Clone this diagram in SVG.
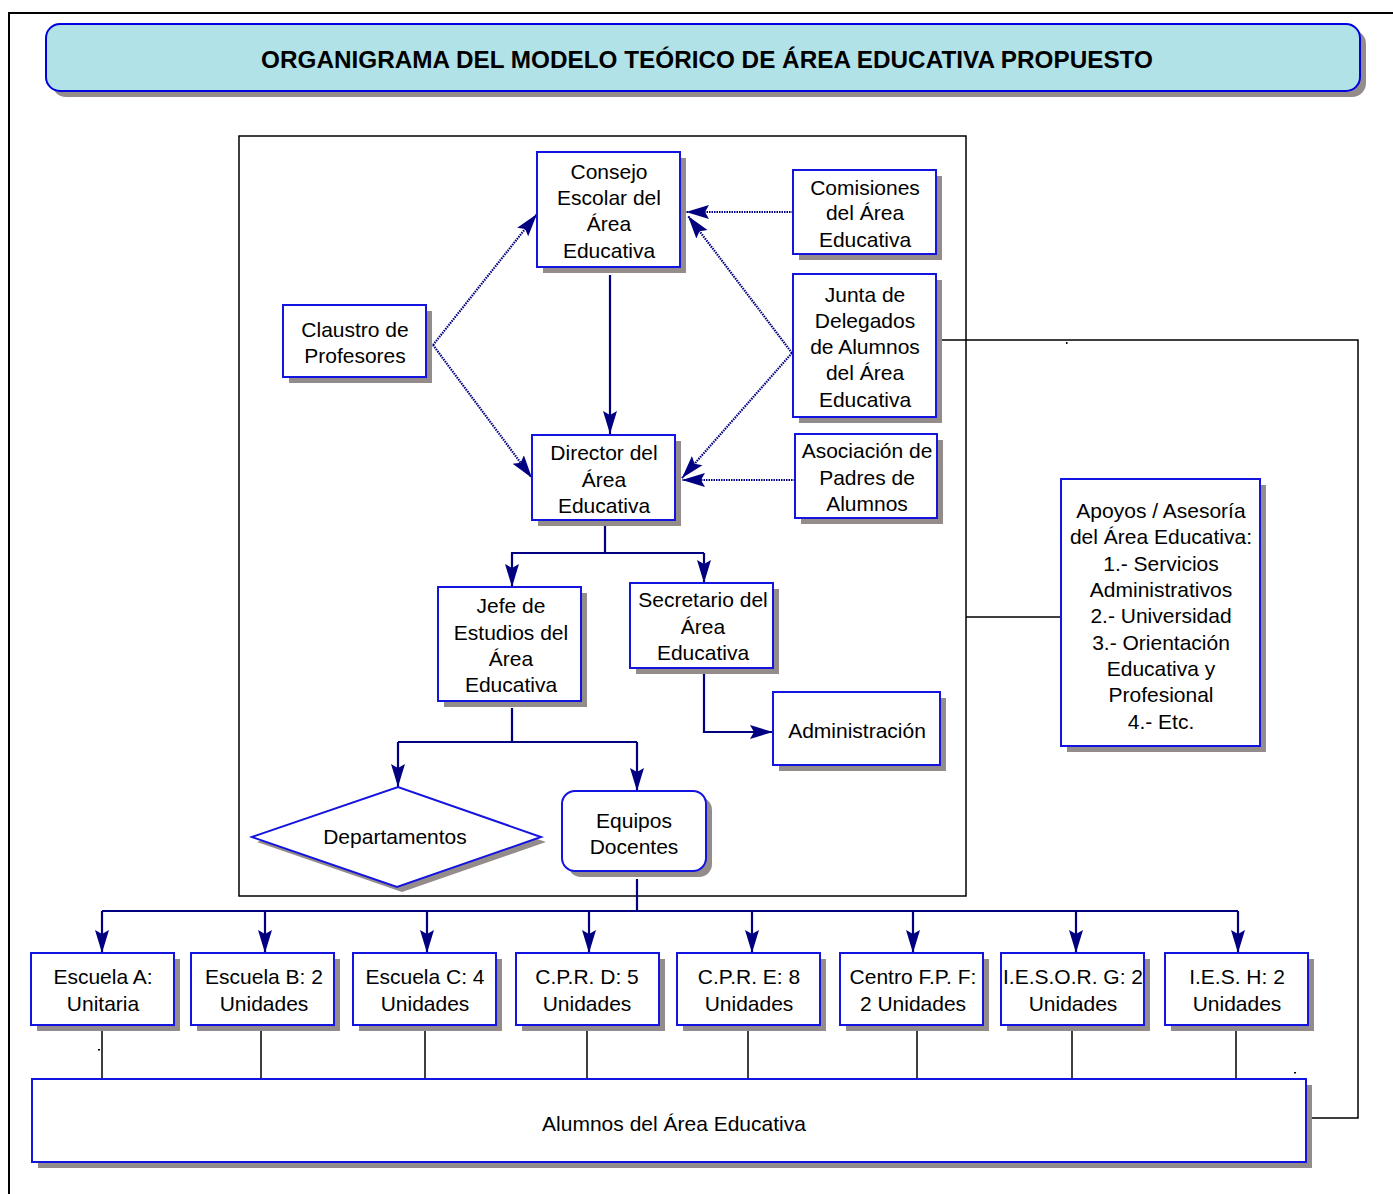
<svg xmlns="http://www.w3.org/2000/svg" width="1393" height="1194" viewBox="0 0 1393 1194">
<style>
.box{fill:#fff;stroke:#1414E0;stroke-width:2}
.sh{fill:#948B8B}
.t{font-family:"Liberation Sans",Arial,sans-serif;font-size:21px;fill:#000;text-anchor:middle}
.ln{fill:none;stroke:#000080;stroke-width:2.2}
.dot{fill:none;stroke:#000080;stroke-width:2.2;stroke-dasharray:1.5 1}
.bk{fill:none;stroke:#000;stroke-width:1.5}
</style>
<defs>
<marker id="ah" markerWidth="26" markerHeight="16" refX="23" refY="8" orient="auto" markerUnits="userSpaceOnUse">
<path d="M0,1 L23,8 L0,15 L4,8 Z" fill="#000080"/>
</marker>
</defs>
<rect width="1393" height="1194" fill="#fff"/>
<g id="frame">
<path d="M9,1194 V13 H1393" fill="none" stroke="#000" stroke-width="2"/>
<rect x="239" y="136" width="727" height="760" fill="none" stroke="#000" stroke-width="1.5"/>
</g>
<g id="title">
<rect x="52" y="30" width="1314" height="67" rx="14" fill="#948B8B"/>
<rect x="46" y="24" width="1314" height="67" rx="14" fill="#B0E2E8" stroke="#0000E0" stroke-width="2"/>
<text x="707" y="68" style="font-family:'Liberation Sans',Arial,sans-serif;font-size:24.3px;font-weight:bold;text-anchor:middle">ORGANIGRAMA DEL MODELO TEÓRICO DE ÁREA EDUCATIVA PROPUESTO</text>
</g>
<g id="connectors">
<path class="ln" d="M610,275 V434" marker-end="url(#ah)"/>
<path class="dot" d="M433,345 L537,214" marker-end="url(#ah)"/>
<path class="dot" d="M433,345 L532,478" marker-end="url(#ah)"/>
<path class="dot" d="M793,212 L686,212" marker-end="url(#ah)"/>
<path class="dot" d="M792,353 L688,216" marker-end="url(#ah)"/>
<path class="dot" d="M792,353 L682,478" marker-end="url(#ah)"/>
<path class="dot" d="M795,480 L682,480" marker-end="url(#ah)"/>
<path class="ln" d="M605,526 V553 M511,553 H704"/>
<path class="ln" d="M512,553 V587" marker-end="url(#ah)"/>
<path class="ln" d="M704,553 V583" marker-end="url(#ah)"/>
<path class="ln" d="M512,708 V742 M398,742 H637"/>
<path class="ln" d="M398,742 V787" marker-end="url(#ah)"/>
<path class="ln" d="M637,742 V791" marker-end="url(#ah)"/>
<path class="ln" d="M704,674 V732 H773" marker-end="url(#ah)"/>
<path class="ln" d="M637,879 V911 M102,911 H1238"/>
<path class="ln" d="M102,911 V953" marker-end="url(#ah)"/>
<path class="ln" d="M265,911 V953" marker-end="url(#ah)"/>
<path class="ln" d="M427,911 V953" marker-end="url(#ah)"/>
<path class="ln" d="M589,911 V953" marker-end="url(#ah)"/>
<path class="ln" d="M752,911 V953" marker-end="url(#ah)"/>
<path class="ln" d="M913,911 V953" marker-end="url(#ah)"/>
<path class="ln" d="M1076,911 V953" marker-end="url(#ah)"/>
<path class="ln" d="M1238,911 V953" marker-end="url(#ah)"/>
<path class="bk" d="M102,1025 V1080 M261,1025 V1080 M425,1025 V1080 M587,1025 V1080 M748,1025 V1080 M917,1025 V1080 M1072,1025 V1080 M1236,1025 V1080"/>
<path class="bk" d="M936,340 H1358 V1118 H1306"/>
<path class="bk" d="M966,617 H1061"/>
<rect x="1066" y="342" width="1.5" height="2" fill="#000"/>
<rect x="98" y="1049" width="2" height="1.5" fill="#000"/>
<rect x="1294" y="1072" width="2" height="1.5" fill="#000"/>
</g>
<g id="consejo">
<rect class="sh" x="543" y="158" width="143" height="115"/>
<rect class="box" x="537" y="152" width="143" height="115"/>
<text class="t" x="609" y="179">Consejo</text>
<text class="t" x="609" y="205">Escolar del</text>
<text class="t" x="609" y="231">Área</text>
<text class="t" x="609" y="258">Educativa</text>
</g>
<g id="comisiones">
<rect class="sh" x="799" y="176" width="143" height="84"/>
<rect class="box" x="793" y="170" width="143" height="84"/>
<text class="t" x="865" y="195">Comisiones</text>
<text class="t" x="865" y="220">del Área</text>
<text class="t" x="865" y="247">Educativa</text>
</g>
<g id="claustro">
<rect class="sh" x="289" y="311" width="143" height="72"/>
<rect class="box" x="283" y="305" width="143" height="72"/>
<text class="t" x="355" y="337">Claustro de</text>
<text class="t" x="355" y="363">Profesores</text>
</g>
<g id="junta">
<rect class="sh" x="799" y="280" width="143" height="143"/>
<rect class="box" x="793" y="274" width="143" height="143"/>
<text class="t" x="865" y="302">Junta de</text>
<text class="t" x="865" y="328">Delegados</text>
<text class="t" x="865" y="354">de Alumnos</text>
<text class="t" x="865" y="380">del Área</text>
<text class="t" x="865" y="407">Educativa</text>
</g>
<g id="director">
<rect class="sh" x="538" y="441" width="143" height="85"/>
<rect class="box" x="532" y="435" width="143" height="85"/>
<text class="t" x="604" y="460">Director del</text>
<text class="t" x="604" y="487">Área</text>
<text class="t" x="604" y="513">Educativa</text>
</g>
<g id="asociacion">
<rect class="sh" x="801" y="440" width="142" height="84"/>
<rect class="box" x="795" y="434" width="142" height="84"/>
<text class="t" x="867" y="458">Asociación de</text>
<text class="t" x="867" y="485">Padres de</text>
<text class="t" x="867" y="511">Alumnos</text>
</g>
<g id="jefe">
<rect class="sh" x="444" y="593" width="143" height="114"/>
<rect class="box" x="438" y="587" width="143" height="114"/>
<text class="t" x="511" y="613">Jefe de</text>
<text class="t" x="511" y="640">Estudios del</text>
<text class="t" x="511" y="666">Área</text>
<text class="t" x="511" y="692">Educativa</text>
</g>
<g id="secretario">
<rect class="sh" x="636" y="589" width="143" height="85"/>
<rect class="box" x="630" y="583" width="143" height="85"/>
<text class="t" x="703" y="607">Secretario del</text>
<text class="t" x="703" y="634">Área</text>
<text class="t" x="703" y="660">Educativa</text>
</g>
<g id="administracion">
<rect class="sh" x="779" y="698" width="167" height="73"/>
<rect class="box" x="773" y="692" width="167" height="73"/>
<text class="t" x="857" y="738">Administración</text>
</g>
<g id="departamentos">
<polygon class="sh" points="257,842 403,792 546,842 402,892"/>
<polygon class="box" points="252,837 398,787 541,837 397,887"/>
<text class="t" x="395" y="844">Departamentos</text>
</g>
<g id="equipos">
<rect class="sh" x="568" y="797" width="144" height="80" rx="13"/>
<rect class="box" x="562" y="791" width="144" height="80" rx="13"/>
<text class="t" x="634" y="828">Equipos</text>
<text class="t" x="634" y="854">Docentes</text>
</g>
<g id="apoyos">
<rect class="sh" x="1067" y="485" width="199" height="267"/>
<rect class="box" x="1061" y="479" width="199" height="267"/>
<text class="t" x="1161" y="518">Apoyos / Asesoría</text>
<text class="t" x="1161" y="544">del Área Educativa:</text>
<text class="t" x="1161" y="571">1.- Servicios</text>
<text class="t" x="1161" y="597">Administrativos</text>
<text class="t" x="1161" y="623">2.- Universidad</text>
<text class="t" x="1161" y="650">3.- Orientación</text>
<text class="t" x="1161" y="676">Educativa y</text>
<text class="t" x="1161" y="702">Profesional</text>
<text class="t" x="1161" y="729">4.- Etc.</text>
</g>
<g id="escuelaA">
<rect class="sh" x="37" y="959" width="143" height="72"/>
<rect class="box" x="31" y="953" width="143" height="72"/>
<text class="t" x="103" y="984">Escuela A:</text>
<text class="t" x="103" y="1011">Unitaria</text>
</g>
<g id="escuelaB">
<rect class="sh" x="197" y="959" width="143" height="72"/>
<rect class="box" x="191" y="953" width="143" height="72"/>
<text class="t" x="264" y="984">Escuela B: 2</text>
<text class="t" x="264" y="1011">Unidades</text>
</g>
<g id="escuelaC">
<rect class="sh" x="359" y="959" width="143" height="72"/>
<rect class="box" x="353" y="953" width="143" height="72"/>
<text class="t" x="425" y="984">Escuela C: 4</text>
<text class="t" x="425" y="1011">Unidades</text>
</g>
<g id="cprD">
<rect class="sh" x="522" y="959" width="143" height="72"/>
<rect class="box" x="516" y="953" width="143" height="72"/>
<text class="t" x="587" y="984">C.P.R. D: 5</text>
<text class="t" x="587" y="1011">Unidades</text>
</g>
<g id="cprE">
<rect class="sh" x="683" y="959" width="143" height="72"/>
<rect class="box" x="677" y="953" width="143" height="72"/>
<text class="t" x="749" y="984">C.P.R. E: 8</text>
<text class="t" x="749" y="1011">Unidades</text>
</g>
<g id="centroF">
<rect class="sh" x="846" y="959" width="143" height="72"/>
<rect class="box" x="840" y="953" width="143" height="72"/>
<text class="t" x="913" y="984">Centro F.P. F:</text>
<text class="t" x="913" y="1011">2 Unidades</text>
</g>
<g id="iesorG">
<rect class="sh" x="1007" y="959" width="143" height="72"/>
<rect class="box" x="1001" y="953" width="143" height="72"/>
<text class="t" x="1073" y="984">I.E.S.O.R. G: 2</text>
<text class="t" x="1073" y="1011">Unidades</text>
</g>
<g id="iesH">
<rect class="sh" x="1171" y="959" width="143" height="72"/>
<rect class="box" x="1165" y="953" width="143" height="72"/>
<text class="t" x="1237" y="984">I.E.S. H: 2</text>
<text class="t" x="1237" y="1011">Unidades</text>
</g>
<g id="alumnos">
<rect class="sh" x="38" y="1085" width="1274" height="83"/>
<rect class="box" x="32" y="1079" width="1274" height="83"/>
<text class="t" x="674" y="1131" style="font-size:21px">Alumnos del Área Educativa</text>
</g>
</svg>
